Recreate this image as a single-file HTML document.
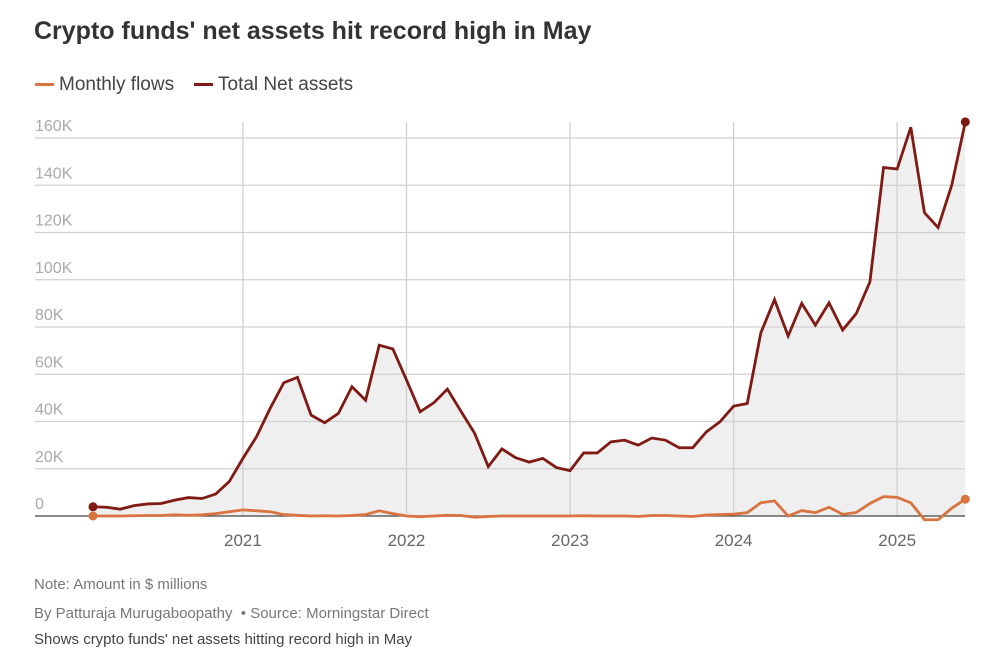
<!DOCTYPE html>
<html><head><meta charset="utf-8">
<style>
body{margin:0;background:#fff;font-family:"Liberation Sans",sans-serif;}
#wrap{position:relative;width:1003px;height:656px;overflow:hidden;}
.t{position:absolute;white-space:nowrap;}
</style></head><body>
<div id="wrap">
<div class="t" style="left:34px;top:17px;font-size:25px;font-weight:bold;color:#333;">Crypto funds' net assets hit record high in May</div>
<div class="t" style="left:35px;top:74px;font-size:19px;color:#444;"><span style="display:inline-block;width:19px;height:3px;background:#d9733f;vertical-align:middle;margin-right:5px;"></span>Monthly flows</div>
<div class="t" style="left:194px;top:74px;font-size:19px;color:#444;"><span style="display:inline-block;width:19px;height:3px;background:#7f1a14;vertical-align:middle;margin-right:5px;"></span>Total Net assets</div>
<svg id="chart" width="1003" height="656" style="position:absolute;left:0;top:0;"></svg>
<div class="t" style="left:34px;top:576px;font-size:15px;color:#777;">Note: Amount in $ millions</div>
<div class="t" style="left:34px;top:605px;font-size:15px;color:#777;">By Patturaja Murugaboopathy &nbsp;• Source: Morningstar Direct</div>
<div class="t" style="left:34px;top:631px;font-size:15px;color:#444;">Shows crypto funds' net assets hitting record high in May</div>
</div>
<script>
const totalAssets=[3.9,3.7,2.9,4.4,5.1,5.3,6.7,7.8,7.4,9.3,14.6,24.4,33.6,45.6,56.4,58.7,42.7,39.5,43.4,54.7,49.0,72.3,70.7,57.6,44.1,47.9,53.7,44.3,35.0,20.9,28.4,24.7,22.8,24.4,20.5,19.2,26.7,26.7,31.4,32.1,30.0,33.0,32.1,28.9,28.9,35.6,39.9,46.5,47.6,77.6,91.6,76.2,90.0,80.8,90.2,78.7,85.7,99.1,147.5,146.9,164.5,128.4,122.1,140.0,166.8];
const monthlyFlows=[0,0,0,0.1,0.2,0.2,0.5,0.3,0.5,1.0,1.8,2.6,2.2,1.8,0.6,0.3,0,0.1,0,0.2,0.6,2.2,1.0,0,-0.3,0,0.3,0.2,-0.5,-0.2,0,0,0,0,0,0,0.1,0,0,0,-0.2,0.2,0.2,0,-0.2,0.4,0.6,0.8,1.4,5.6,6.4,0,2.3,1.4,3.7,0.7,1.5,5.3,8.2,7.9,5.6,-1.6,-1.6,3.3,7.1];
const yTicks=[0,20,40,60,80,100,120,140,160];
const yTickLabels=["0","20K","40K","60K","80K","100K","120K","140K","160K"];
const yearTickIdx=[11,23,35,47,59];
const yearLabels=["2021","2022","2023","2024","2025"];
const svg=document.getElementById('chart');
const NS='http://www.w3.org/2000/svg';
const X0=93,DX=13.63,Y0=516,KY=2.3625;
const x=i=>X0+i*DX, y=v=>Y0-v*KY;
function mk(t,a){const e=document.createElementNS(NS,t);for(const k in a)e.setAttribute(k,a[k]);svg.appendChild(e);return e;}
let d='M'+x(0)+','+Y0+totalAssets.map((v,i)=>' L'+x(i)+','+y(v)).join('')+' L'+x(totalAssets.length-1)+','+Y0+'Z';
const area=mk('path',{d:d,fill:'#efefef'});


yTicks.forEach((t,k)=>{
 if(t>0){const g=mk('line',{x1:35,x2:965,y1:y(t),y2:y(t),stroke:'#d0d0d0','stroke-width':1.3});
 
 }
 const l=mk('text',{x:35,y:y(t)-7,'font-size':16,fill:'#aaa','font-family':'Liberation Sans, sans-serif'});
 l.textContent=yTickLabels[k];
 
 
});
yearTickIdx.forEach((idx,k)=>{
 const g=mk('line',{x1:x(idx),x2:x(idx),y1:122,y2:Y0,stroke:'#d0d0d0','stroke-width':1.3});
 
 
 const l=mk('text',{x:x(idx),y:546,'text-anchor':'middle','font-size':17,fill:'#666','font-family':'Liberation Sans, sans-serif'});
 l.textContent=yearLabels[k];
 
 
});
const base=mk('line',{x1:35,x2:965,y1:Y0,y2:Y0,stroke:'#444','stroke-width':1.3});


function series(arr,color,name){
 const p=mk('polyline',{points:arr.map((v,i)=>x(i)+','+y(v)).join(' '),fill:'none',stroke:color,'stroke-width':2.8,'stroke-linejoin':'miter'});
 
 
 [0,arr.length-1].forEach(i=>{
  const c=mk('circle',{cx:x(i),cy:y(arr[i]),r:4.5,fill:color});
  
  
 });
}
series(monthlyFlows,'#d9733f','monthly-flows');
series(totalAssets,'#7f1a14','total-net-assets');
</script>
</body></html>
